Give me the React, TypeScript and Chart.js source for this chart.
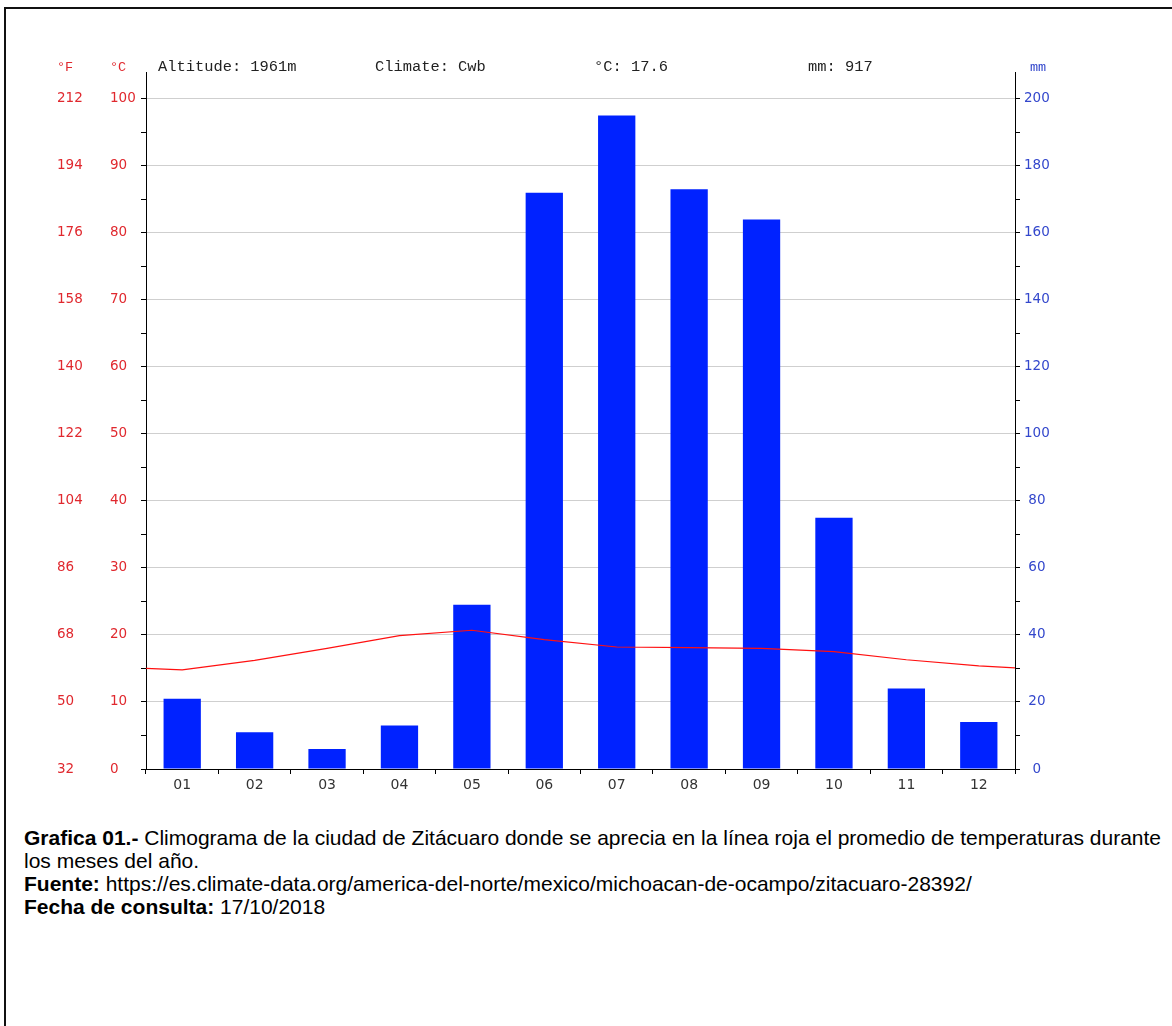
import React, { useEffect, useRef } from "react";
import { Chart, registerables } from "chart.js";

Chart.register(...registerables);

// ---- data ----
const months = ["01", "02", "03", "04", "05", "06", "07", "08", "09", "10", "11", "12"];
const precipitationMm = [21, 11, 6, 13, 49, 172, 195, 173, 164, 75, 24, 14];
const temperatureC = [14.8, 16.2, 18.0, 19.9, 20.7, 19.3, 18.2, 18.1, 18.0, 17.5, 16.3, 15.4];
// value of the temperature line where it meets the left and right plot edges
const temperatureEdgesC = [15.0, 15.1];
const headerTexts = ["Altitude: 1961m", "Climate: Cwb", "°C: 17.6", "mm: 917"];

const RED = "#e0282e";
const BLUE = "#3347cc";
const BAR = "#0022ff";
const TICK_FONT = { family: "'DejaVu Sans', sans-serif", size: 13.5 };
const HEADER_OFFSETS = [12, 229, 448, 662];

const textPlugin = {
  id: "climateTexts",
  afterDraw(chart: any) {
    const ctx = chart.ctx;
    const { left, top } = chart.chartArea;
    const y = top - 5;
    ctx.save();
    ctx.textBaseline = "middle";
    ctx.textAlign = "left";
    ctx.font = "15.4px 'Liberation Mono', monospace";
    ctx.fillStyle = "#222";
    headerTexts.forEach((t, i) => ctx.fillText(t, left + HEADER_OFFSETS[i], y));
    ctx.font = "13.5px 'Liberation Mono', monospace";
    ctx.fillStyle = RED;
    ctx.fillText("°F", chart.scales.yF.left, y);
    ctx.fillText("°C", chart.scales.yC.left, y);
    ctx.fillStyle = BLUE;
    ctx.fillText("mm", chart.scales.yR.left + 15, y);
    ctx.restore();
  },
};

function ClimateChart() {
  const ref = useRef<HTMLCanvasElement | null>(null);
  useEffect(() => {
    if (!ref.current) return;
    const lineData = [
      { x: 0.5, y: temperatureEdgesC[0] },
      ...temperatureC.map((t, i) => ({ x: i + 1, y: t })),
      { x: 12.5, y: temperatureEdgesC[1] },
    ];
    const chart = new Chart(ref.current, {
      type: "bar",
      data: {
        labels: months,
        datasets: [
          {
            type: "line",
            data: lineData as any,
            xAxisID: "xl",
            yAxisID: "yC",
            borderColor: "#ff1010",
            borderWidth: 1.2,
            pointRadius: 0,
            tension: 0,
            order: 0,
          },
          {
            type: "bar",
            data: precipitationMm,
            xAxisID: "x",
            yAxisID: "yR",
            backgroundColor: BAR,
            barPercentage: 0.515,
            categoryPercentage: 1,
            grouped: false,
            order: 1,
          },
        ],
      } as any,
      options: {
        animation: false,
        responsive: false,
        maintainAspectRatio: false,
        events: [],
        layout: { padding: { left: 57, top: 72, right: 97, bottom: 0 } },
        plugins: { legend: { display: false }, tooltip: { enabled: false }, title: { display: false } },
        scales: {
          x: {
            type: "category",
            offset: true,
            grid: { display: true, drawOnChartArea: false, offset: true, tickLength: 5, color: "#000", tickColor: "#000" },
            border: { display: true, color: "#000", width: 1 },
            ticks: { color: "#333", font: { family: "'DejaVu Sans', sans-serif", size: 14 }, padding: 3, autoSkip: false, maxRotation: 0 },
            afterFit: (s: any) => {
              s.height = 31;
            },
          },
          xl: { type: "linear", min: 0.5, max: 12.5, offset: false, display: false },
          yC: {
            type: "linear",
            position: "left",
            weight: 0,
            min: 0,
            max: 104,
            ticks: {
              stepSize: 5,
              includeBounds: false,
              autoSkip: false,
              color: RED,
              font: TICK_FONT,
              crossAlign: "far",
              callback: (v: any) => (Number(v) % 10 === 0 ? String(v) : ""),
            },
            grid: {
              color: (c: any) => (c.tick && c.tick.value % 10 === 0 && c.tick.value > 0 ? "#cfcfcf" : "rgba(0,0,0,0)"),
              tickColor: "#000",
              tickLength: 5,
              lineWidth: 1,
            },
            border: { display: true, color: "#000", width: 1 },
            afterFit: (s: any) => {
              s.width = 36;
            },
          },
          yF: {
            type: "linear",
            position: "left",
            weight: 1,
            min: 0,
            max: 104,
            ticks: {
              stepSize: 10,
              includeBounds: false,
              autoSkip: false,
              color: RED,
              font: TICK_FONT,
              crossAlign: "far",
              callback: (v: any) => String(Math.round(32 + 1.8 * Number(v))),
            },
            grid: { display: false },
            border: { display: false },
            afterFit: (s: any) => {
              s.width = 53;
            },
          },
          yR: {
            type: "linear",
            position: "right",
            min: 0,
            max: 208,
            ticks: {
              stepSize: 10,
              includeBounds: false,
              autoSkip: false,
              color: BLUE,
              font: TICK_FONT,
              crossAlign: "center",
              padding: 4,
              callback: (v: any) => (Number(v) % 20 === 0 ? String(v) : ""),
            },
            grid: { drawOnChartArea: false, tickColor: "#000", color: "#000", tickLength: 5 },
            border: { display: true, color: "#000", width: 1 },
            afterFit: (s: any) => {
              s.width = 60;
            },
          },
        },
      } as any,
      plugins: [textPlugin],
    });
    return () => chart.destroy();
  }, []);
  return <canvas ref={ref} width={1172} height={800} style={{ position: "absolute", left: 0, top: 0, width: 1172, height: 800 }} />;
}

export default function App() {
  return (
    <div style={{ position: "absolute", left: 0, top: 0, width: 1172, height: 1026, overflow: "hidden", background: "#fff" }}>
      <div
        style={{
          position: "absolute",
          left: 4,
          top: 7,
          width: 1300,
          height: 1200,
          borderTop: "2px solid #111",
          borderLeft: "2px solid #111",
          boxSizing: "border-box",
        }}
      />
      <ClimateChart />
      <div
        style={{
          position: "absolute",
          left: 24,
          top: 826,
          fontFamily: "'Liberation Sans', Arial, sans-serif",
          fontSize: 21,
          lineHeight: "23px",
          color: "#000",
          whiteSpace: "nowrap",
        }}
      >
        <div>
          <b>Grafica 01.-</b> Climograma de la ciudad de Zitácuaro donde se aprecia en la línea roja el promedio de temperaturas durante
        </div>
        <div>los meses del año.</div>
        <div>
          <b>Fuente:</b> https://es.climate-data.org/america-del-norte/mexico/michoacan-de-ocampo/zitacuaro-28392/
        </div>
        <div>
          <b>Fecha de consulta:</b> 17/10/2018
        </div>
      </div>
    </div>
  );
}
